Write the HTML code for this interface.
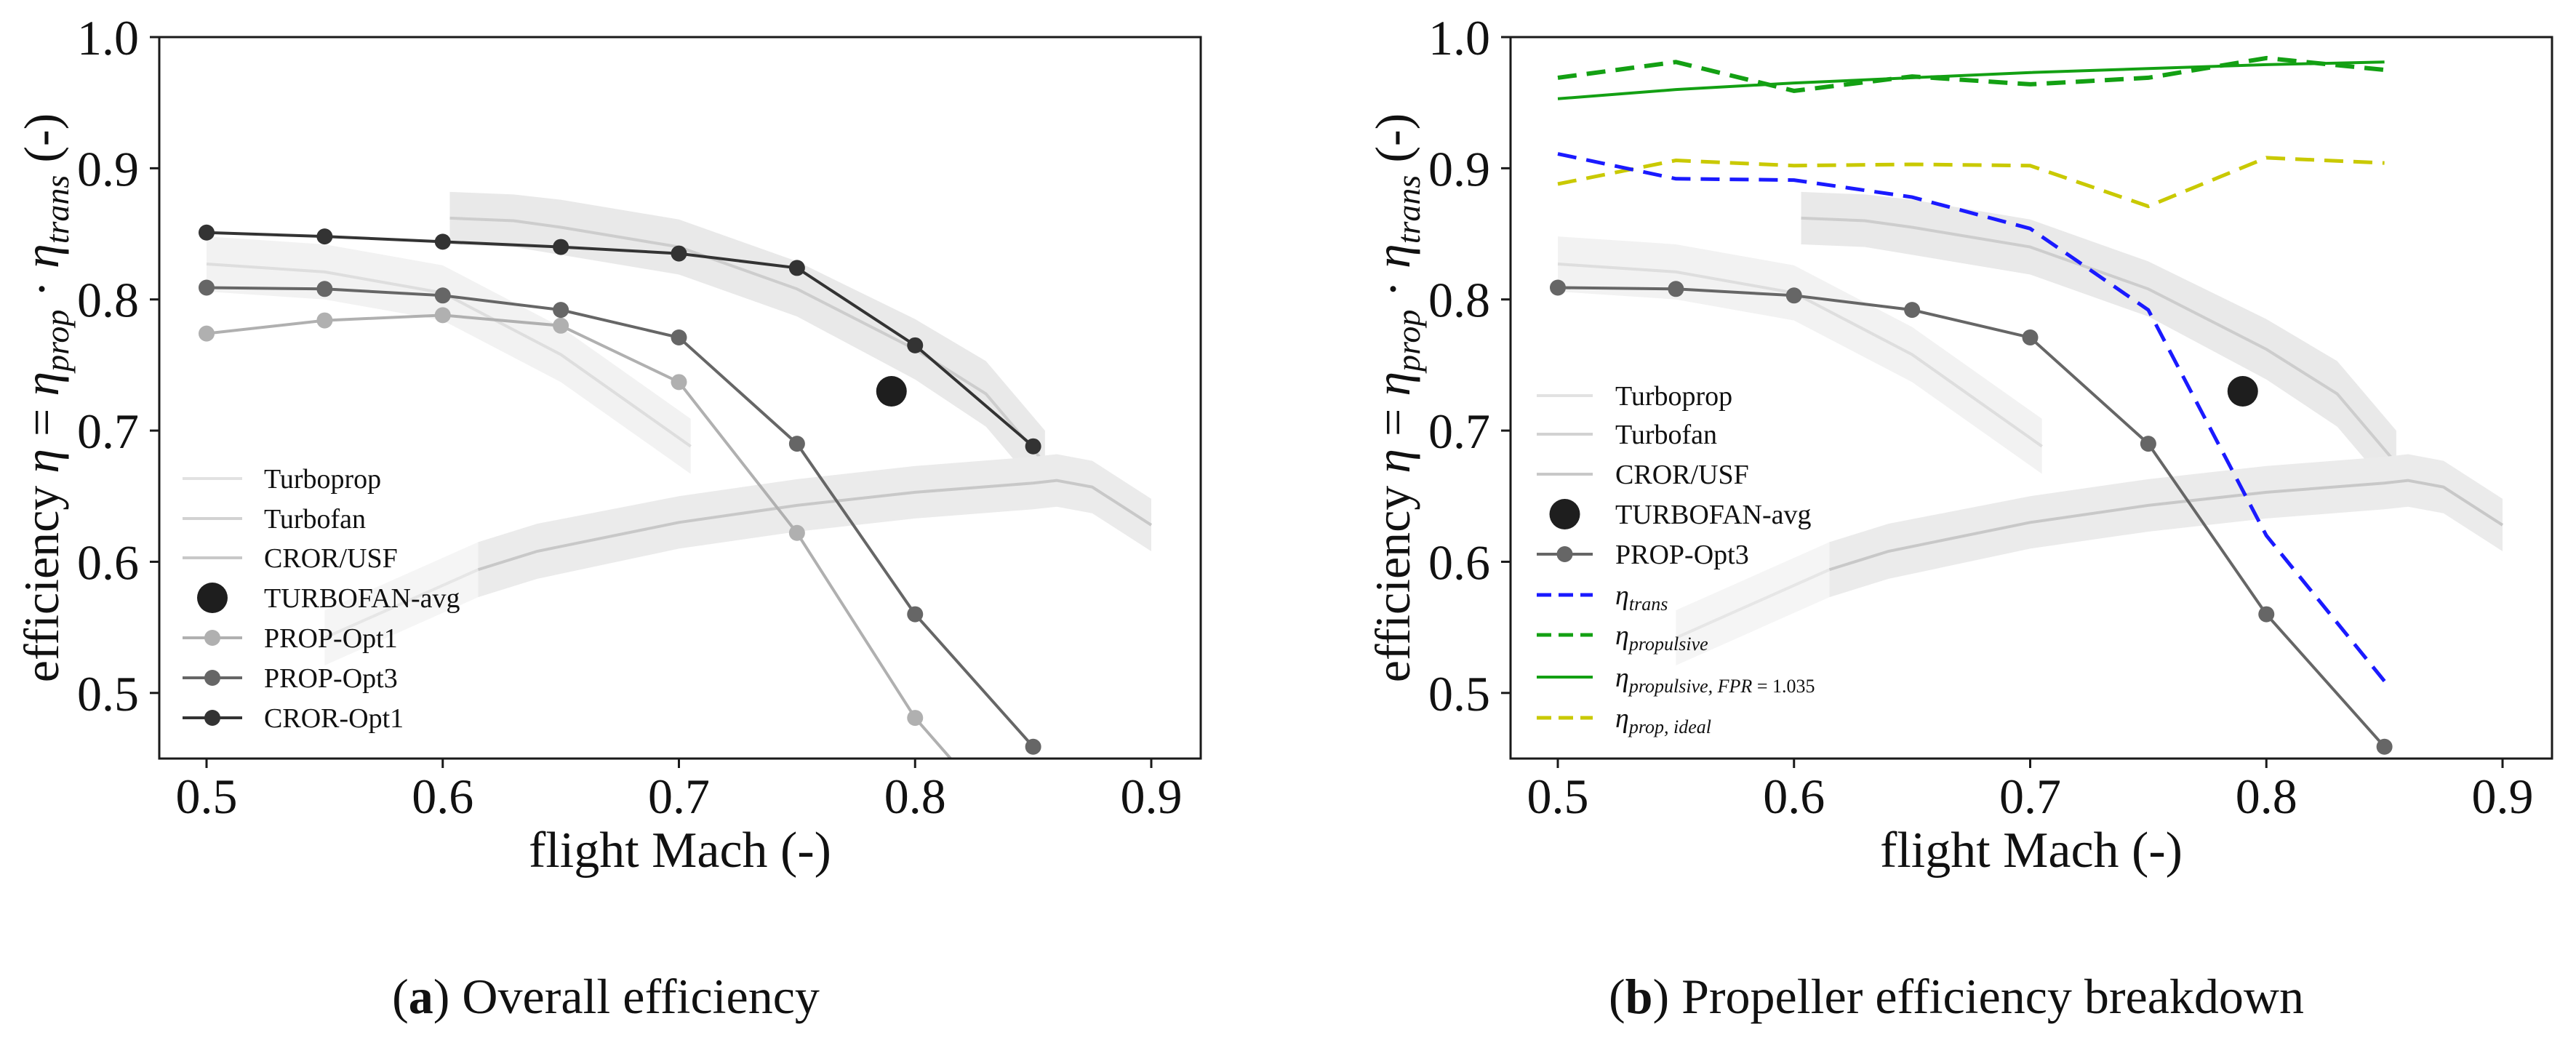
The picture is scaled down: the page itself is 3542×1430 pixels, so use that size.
<!DOCTYPE html>
<html><head><meta charset="utf-8">
<style>
html,body{margin:0;padding:0;background:#fff;}
svg{display:block;font-family:"Liberation Serif",serif;}
</style></head>
<body>
<svg id="chart" width="3542" height="1430" viewBox="0 0 3542 1430" xmlns="http://www.w3.org/2000/svg"></svg>
<script>
// ---- data ----
const machPts = [0.5,0.55,0.6,0.65,0.7,0.75,0.8,0.85];
const crorOpt1 = [0.851,0.848,0.844,0.840,0.835,0.824,0.765,0.688];
const propOpt3 = [0.809,0.808,0.803,0.792,0.771,0.690,0.560,0.459];
const propOpt1 = [0.774,0.784,0.788,0.780,0.737,0.622,0.481,0.378];
const turbofanAvgMach = [0.79];
const turbofanAvgEff = [0.730];
const etaTrans = [0.911,0.892,0.891,0.878,0.854,0.792,0.620,0.509];
const etaPropulsive = [0.969,0.981,0.959,0.970,0.964,0.969,0.984,0.975];
const etaPropulsiveFPR = [0.953,0.960,0.965,0.969,0.973,0.976,0.979,0.981];
const etaPropIdeal = [0.888,0.906,0.902,0.903,0.902,0.871,0.908,0.904];
const turbopropMach = [0.5,0.55,0.6,0.65,0.705];
const turbopropCenter = [0.827,0.821,0.805,0.758,0.688];
const turbopropHalf = [0.021,0.021,0.021,0.021,0.021];
const turbofanMach = [0.603,0.63,0.65,0.7,0.75,0.8,0.83,0.855];
const turbofanCenter = [0.862,0.860,0.855,0.840,0.808,0.762,0.728,0.675];
const turbofanHalf = [0.02,0.02,0.021,0.021,0.021,0.023,0.025,0.025];
const crorMachA = [0.55,0.615];
const crorCenterA = [0.542,0.594];
const crorMach = [0.615,0.64,0.7,0.75,0.8,0.85,0.86,0.875,0.9];
const crorCenter = [0.594,0.608,0.630,0.643,0.653,0.660,0.662,0.657,0.628];
const crorHalf = [0.021,0.021,0.02,0.02,0.02,0.02,0.02,0.02,0.02];
const xTicks = [0.5,0.6,0.7,0.8,0.9];
const yTicks = [0.5,0.6,0.7,0.8,0.9,1.0];
const xTickLabels = ["0.5","0.6","0.7","0.8","0.9"];
const yTickLabels = ["0.5","0.6","0.7","0.8","0.9","1.0"];

const NS="http://www.w3.org/2000/svg";
const svg=document.getElementById('chart');
function mk(tag,attrs,parent){const e=document.createElementNS(NS,tag);for(const k in attrs)e.setAttribute(k,attrs[k]);(parent||svg).appendChild(e);return e;}

function panel(off, which){
  const L=219+off,R=1651+off,T=51,B=1043;
  const sx=m=>284+off+(m-0.5)*3247.5;
  const sy=v=>T+(1-v)*1803.6;
  const g=mk('g',{});
  
  
  const clipId='clip'+which;
  const cp=mk('clipPath',{id:clipId},g);mk('rect',{x:L,y:T,width:R-L,height:B-T},cp);
  const plot=mk('g',{'clip-path':'url(#'+clipId+')'},g);
  
  

  function band(ms,c,h,fill,stroke,name){
    let up=ms.map((m,i)=>sx(m)+','+sy(c[i]+h[i]));
    let lo=ms.map((m,i)=>sx(m)+','+sy(c[i]-h[i])).reverse();
    const p=mk('polygon',{points:up.concat(lo).join(' '),fill:fill},plot);
    
    
    const l=mk('polyline',{points:ms.map((m,i)=>sx(m)+','+sy(c[i])).join(' '),fill:'none',stroke:stroke,'stroke-width':4},plot);
    
    
  }
  band(turbopropMach,turbopropCenter,turbopropHalf,'#f2f2f2','#dedede','turboprop');
  band(turbofanMach,turbofanCenter,turbofanHalf,'#e9e9e9','#cdcdcd','turbofan');
  band(crorMachA,crorCenterA,[0.021,0.021],'#f5f5f5','#e6e6e6','cror-usf-low');
  band(crorMach,crorCenter,crorHalf,'#ebebeb','#c8c8c8','cror-usf');

  function series(ys,color,name,markers,dash,w){
    const l=mk('polyline',{points:machPts.map((m,i)=>sx(m)+','+sy(ys[i])).join(' '),fill:'none',stroke:color,'stroke-width':w||4,'stroke-dasharray':dash||'none'},plot);
    
    
    if(markers){machPts.forEach((m,i)=>{
      const c=mk('circle',{cx:sx(m),cy:sy(ys[i]),r:11,fill:color},plot);
      
      
    });}
  }
  if(which==='a'){
    series(propOpt1,'#b0b0b0','prop-opt1',true);
    series(propOpt3,'#666666','prop-opt3',true);
    series(crorOpt1,'#333333','cror-opt1',true);
  } else {
    series(etaPropulsiveFPR,'#13a013','eta-propulsive-fpr',false,null,4);
    series(etaPropulsive,'#13a013','eta-propulsive',false,'26 14',6);
    series(etaPropIdeal,'#c9c900','eta-prop-ideal',false,'26 14',5);
    series(etaTrans,'#1a1aff','eta-trans',false,'26 14',5);
    series(propOpt3,'#666666','prop-opt3',true);
  }
  turbofanAvgMach.forEach((m,i)=>{
    const c=mk('circle',{cx:sx(m),cy:sy(turbofanAvgEff[i]),r:21,fill:'#1e1e1e'},plot);
    
    
  });

  // axes frame
  const fr=mk('rect',{x:L,y:T,width:R-L,height:B-T,fill:'none',stroke:'#1a1a1a','stroke-width':3},g);
  
  
  xTicks.forEach((t,i)=>{
    mk('line',{x1:sx(t),x2:sx(t),y1:B,y2:B+13,stroke:'#1a1a1a','stroke-width':3},g);
    const tx=mk('text',{x:sx(t),y:1118,'font-size':68,'text-anchor':'middle',fill:'#111'},g);
    tx.textContent=xTickLabels[i];
    
    
  });
  yTicks.forEach((t,i)=>{
    mk('line',{x1:L-13,x2:L,y1:sy(t),y2:sy(t),stroke:'#1a1a1a','stroke-width':3},g);
    const tx=mk('text',{x:L-28,y:sy(t)+24,'font-size':68,'text-anchor':'end',fill:'#111'},g);
    tx.textContent=yTickLabels[i];
    
    
  });
  const xl=mk('text',{x:935+off,y:1192,'font-size':70,'text-anchor':'middle',fill:'#111'},g);
  xl.textContent='flight Mach (-)';
  
  
  const yl=mk('text',{x:0,y:0,'font-size':68,'text-anchor':'middle',fill:'#111',transform:'translate('+(80+off)+',547) rotate(-90)'},g);
  yl.innerHTML='efficiency <tspan font-style="italic">η</tspan> = <tspan font-style="italic">η</tspan><tspan font-style="italic" font-size="46" dy="14">prop</tspan><tspan dy="-14"> · </tspan><tspan font-style="italic">η</tspan><tspan font-style="italic" font-size="46" dy="14">trans</tspan><tspan dy="-14"> (-)</tspan>';
  
  

  // legend
  const lg=mk('g',{},g);
  
  
  let entries, ys, lx1, lx2, tx0;
  if(which==='a'){
    entries=[['Turboprop','#e2e2e2','line'],['Turbofan','#d2d2d2','line'],['CROR/USF','#c8c8c8','line'],['TURBOFAN-avg','#1e1e1e','big'],['PROP-Opt1','#b0b0b0','mk'],['PROP-Opt3','#666666','mk'],['CROR-Opt1','#333333','mk']];
    ys=[658,713,767,822,877,932,987]; lx1=251;lx2=333;tx0=363;
  } else {
    entries=[['Turboprop','#e2e2e2','line'],['Turbofan','#d2d2d2','line'],['CROR/USF','#c8c8c8','line'],['TURBOFAN-avg','#1e1e1e','big'],['PROP-Opt3','#666666','mk'],
      ['<tspan font-style="italic">η</tspan><tspan font-style="italic" font-size="26" dy="8">trans</tspan>','#1a1aff','dash'],
      ['<tspan font-style="italic">η</tspan><tspan font-style="italic" font-size="26" dy="8">propulsive</tspan>','#13a013','dash'],
      ['<tspan font-style="italic">η</tspan><tspan font-style="italic" font-size="26" dy="8">propulsive, FPR</tspan><tspan font-size="26"> = 1.035</tspan>','#13a013','line'],
      ['<tspan font-style="italic">η</tspan><tspan font-style="italic" font-size="26" dy="8">prop, ideal</tspan>','#c9c900','dash']];
    ys=[544,597,652,707,762,818,873,931,987]; lx1=2113;lx2=2190;tx0=2221;
  }
  entries.forEach((e,i)=>{
    const y=ys[i];
    const eg=mk('g',{},lg);
    
    
    if(e[2]==='big'){mk('circle',{cx:(lx1+lx2)/2,cy:y,r:21,fill:e[1]},eg);}
    else{
      mk('line',{x1:lx1,x2:lx2,y1:y,y2:y,stroke:e[1],'stroke-width':e[2]==='dash'?5:4,'stroke-dasharray':e[2]==='dash'?'20 10':'none'},eg);
      if(e[2]==='mk')mk('circle',{cx:(lx1+lx2)/2,cy:y,r:11,fill:e[1]},eg);
    }
    const t=mk('text',{x:tx0,y:y+13,'font-size':38,fill:'#111'},eg);
    t.innerHTML=e[0];
  });

  // caption
  const cap=mk('text',{x:(which==='a'?833:2690),y:1393,'font-size':68,'text-anchor':'middle',fill:'#111'},g);
  cap.innerHTML=which==='a'?'(<tspan font-weight="bold">a</tspan>) Overall efficiency':'(<tspan font-weight="bold">b</tspan>) Propeller efficiency breakdown';
  
  
}
panel(0,'a');
panel(1858,'b');
</script>
</body></html>
